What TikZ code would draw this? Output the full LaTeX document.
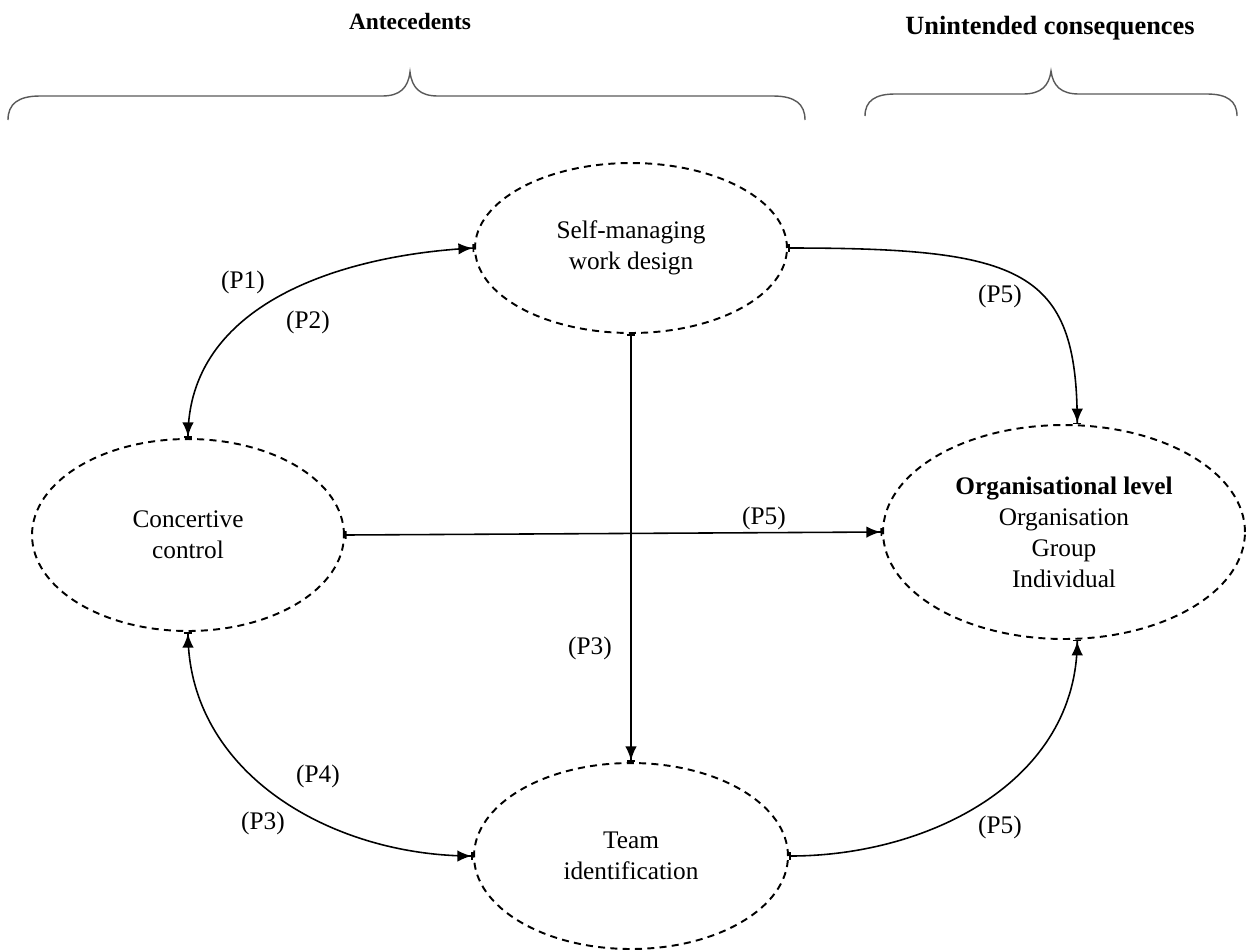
\documentclass[tikz,border=0pt]{standalone}
\usepackage{fontspec}
\setmainfont{Liberation Serif}
\usetikzlibrary{shapes.geometric,arrows.meta}
\tikzset{
  construct/.style={ellipse,draw=black,dashed,line width=1.1pt,dash pattern=on 4pt off 3pt,inner sep=0pt,align=center,font=\fontsize{14.4}{17.6}\selectfont},
  lbl/.style={font=\fontsize{14.4}{17.6}\selectfont,inner sep=0pt},
  ttl/.style={inner sep=0pt},
  link/.style={line width=0.9pt,{Bar[width=4.5pt,line width=0.9pt]}-{Latex[length=8pt,width=6.5pt] Bar[width=4.5pt,line width=0.9pt]}},
  bilink/.style={line width=0.9pt,{Bar[width=4.5pt,line width=0.9pt] Latex[length=8pt,width=6.5pt]}-{Latex[length=8pt,width=6.5pt] Bar[width=4.5pt,line width=0.9pt]}},
  brace/.style={draw=black!65,line width=0.8pt}
}
\begin{document}
\begin{tikzpicture}[x=0.02cm,y=-0.02cm]
\useasboundingbox (0,0) rectangle (1260,951);
% titles
\node[ttl,font=\fontsize{13.3}{16}\selectfont\bfseries] (tA) at (410,22) {Antecedents};
\node[ttl,font=\fontsize{15}{18}\selectfont\bfseries] (tU) at (1050,28) {Unintended consequences};
% braces
\draw[brace] (8,120) .. controls (8,104) and (18,96) .. (40,96) -- (382,96)
  .. controls (400,96) and (408,88) .. (410,72)
  .. controls (412,88) and (420,96) .. (438,96) -- (773,96)
  .. controls (795,96) and (805,104) .. (805,120);
\draw[brace] (865,116) .. controls (865,101) and (875,94) .. (895,94) -- (1023,94)
  .. controls (1041,94) and (1049,86) .. (1051,71)
  .. controls (1053,86) and (1061,94) .. (1079,94) -- (1207,94)
  .. controls (1227,94) and (1237,101) .. (1237,116);
% constructs
\node[construct,minimum width=6.24cm,minimum height=3.4cm] (sm) at (631,248) {Self-managing\\work design};
\node[construct,minimum width=6.24cm,minimum height=3.84cm] (cc) at (188,535) {Concertive\\control};
\node[construct,minimum width=6.28cm,minimum height=3.72cm] (tm) at (631,856) {Team\\identification};
\node[construct,minimum width=7.24cm,minimum height=4.28cm] (org) at (1064,532) {\textbf{Organisational level}\\Organisation\\Group\\Individual};
% connectors
\draw[bilink] (cc.north) to[out=90,in=183] (sm.west);
\draw[bilink] (cc.south) to[out=-90,in=180] (tm.west);
\draw[link] (sm.east) .. controls +(235,0) and +(0,-155) .. (org.83);
\draw[link] (tm.east) to[out=0,in=-90] (org.-83);
\draw[link] (cc.east) -- (org.west);
\draw[link] (sm.south) -- (tm.north);
% labels
\node[lbl] (p1) at (243,282) {(P1)};
\node[lbl] (p2) at (308,322) {(P2)};
\node[lbl] (p5a) at (1000,296) {(P5)};
\node[lbl] (p5b) at (764,518) {(P5)};
\node[lbl] (p3a) at (590,648) {(P3)};
\node[lbl] (p4) at (318,776) {(P4)};
\node[lbl] (p3b) at (263,823) {(P3)};
\node[lbl] (p5c) at (1000,827) {(P5)};
\end{tikzpicture}
\end{document}
